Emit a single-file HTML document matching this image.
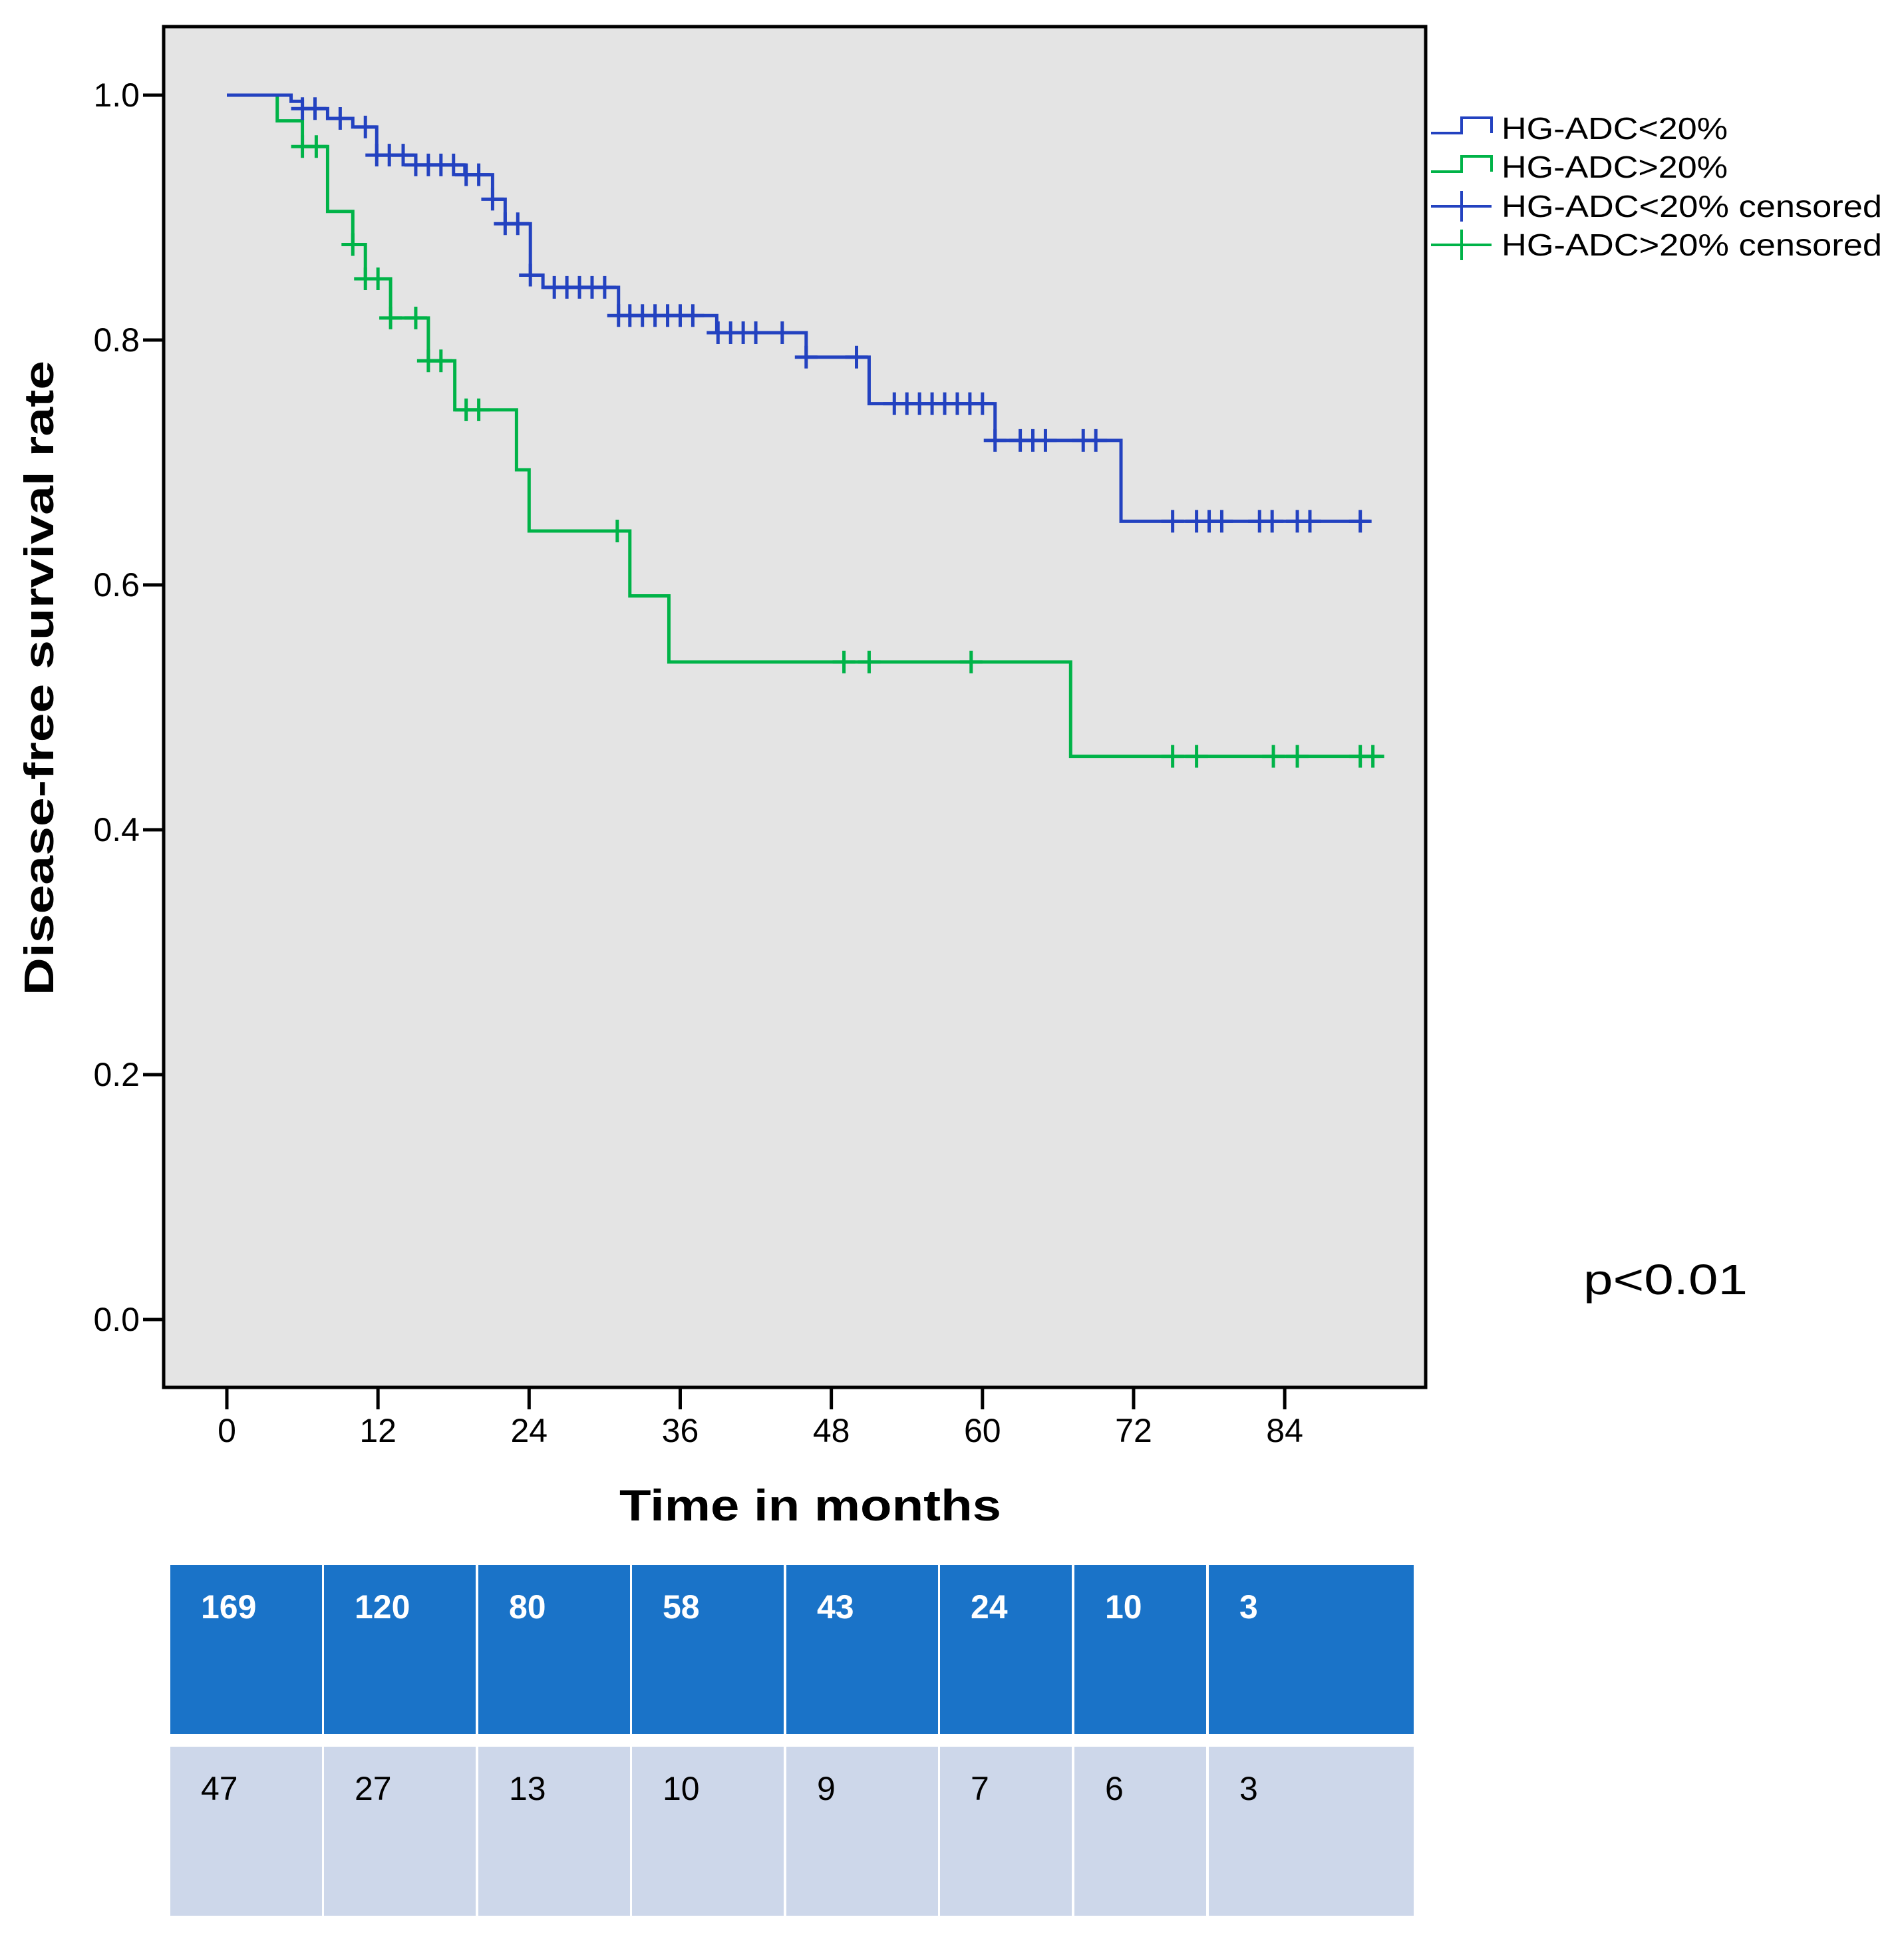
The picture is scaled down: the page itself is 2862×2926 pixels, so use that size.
<!DOCTYPE html>
<html><head><meta charset="utf-8"><style>
html,body{margin:0;padding:0;background:#fff;}
svg{display:block;font-family:"Liberation Sans",sans-serif;}
</style></head><body>
<svg id="chart" width="2862" height="2926" viewBox="0 0 2862 2926" xmlns="http://www.w3.org/2000/svg">
<rect x="246" y="40" width="1897" height="2045" fill="#e4e4e4"/>
<g id="marks"></g>
<rect x="246" y="40" width="1897" height="2045" fill="none" stroke="#000" stroke-width="5"/>
<g id="axes"></g>
<text transform="translate(80,1019) rotate(-90)" text-anchor="middle" font-size="62" font-weight="bold" textLength="954" lengthAdjust="spacingAndGlyphs">Disease-free survival rate</text>
<text x="1218" y="2285" text-anchor="middle" font-size="66" font-weight="bold" textLength="574" lengthAdjust="spacingAndGlyphs">Time in months</text>
<text x="2380" y="1945" font-size="64" textLength="247" lengthAdjust="spacingAndGlyphs">p&lt;0.01</text>
<g id="legend"></g>
<g id="table"></g>
</svg>
<script>
const xTicks=[0,12,24,36,48,60,72,84];
const yTicks=[0,0.2,0.4,0.6,0.8,1.0];
const blueTimes=[0,5.1,6.0,8.0,10.0,11.9,15.0,18.9,21.1,22.1,24.1,25.1,31.1,38.9,46.0,51.0,61.0,71.0];
const blueSurv=[1.0,0.995,0.989,0.981,0.974,0.951,0.943,0.935,0.915,0.895,0.853,0.843,0.820,0.806,0.786,0.748,0.718,0.652];
const blueEnd=90.8;
const blueCensor=[6.0,7.0,9.0,11.0,11.9,12.9,14.0,15.0,16.0,17.0,18.0,19.0,20.0,21.1,22.1,23.1,24.1,26.0,27.0,28.0,29.0,30.0,31.1,32.0,33.0,34.0,35.0,36.0,37.0,39.0,40.0,41.0,42.0,44.1,46.0,50.0,53.0,54.0,55.0,56.0,57.0,58.0,59.0,60.0,61.0,63.0,64.0,65.0,68.0,69.0,75.1,77.0,78.0,79.0,82.0,83.0,85.0,86.0,90.0];
const greenTimes=[0,4.0,6.0,8.0,10.0,11.0,13.0,16.0,18.1,23.0,24.0,32.0,35.1,67.0];
const greenSurv=[1.0,0.979,0.958,0.905,0.878,0.850,0.818,0.783,0.743,0.694,0.644,0.591,0.537,0.460];
const greenEnd=91.6;
const greenCensor=[6.0,7.1,10.0,11.0,12.0,13.0,15.0,16.0,17.0,19.0,20.0,31.0,49.0,51.0,59.1,75.1,77.0,83.1,85.0,90.0,91.0];
const riskHigh=["169","120","80","58","43","24","10","3"];
const riskLow=["47","27","13","10","9","7","6","3"];
const legendLabels=["HG-ADC<20%","HG-ADC>20%","HG-ADC<20% censored","HG-ADC>20% censored"];

const NS="http://www.w3.org/2000/svg";
const X=t=>341+t*18.93;
const Y=s=>1983-s*1840;
const BLUE="#2342c0",GREEN="#00b348";
function mk(tag,attrs,parent){const e=document.createElementNS(NS,tag);for(const k in attrs)e.setAttribute(k,attrs[k]);parent.appendChild(e);return e;}
const marks=document.getElementById('marks');
function survAt(times,surv,t){let s=surv[0];for(let i=0;i<times.length;i++){if(times[i]<=t+1e-9)s=surv[i];}return s;}
function drawCurve(times,surv,end,cens,color,name){
  let d="M"+X(times[0])+","+Y(surv[0]);
  for(let i=1;i<times.length;i++){d+=" H"+X(times[i])+" V"+Y(surv[i]);}
  d+=" H"+X(end);
  const p=mk('path',{d:d,fill:"none",stroke:color,"stroke-width":5},marks);
  
  
  cens.forEach(t=>{
    const s=survAt(times,surv,t);
    const c=mk('path',{d:"M"+(X(t)-17)+","+Y(s)+" H"+(X(t)+17)+" M"+X(t)+","+(Y(s)-17)+" V"+(Y(s)+17),stroke:color,"stroke-width":5,fill:"none"},marks);
    
    
  });
}
drawCurve(greenTimes,greenSurv,greenEnd,greenCensor,GREEN,'hg-adc-gt20');
drawCurve(blueTimes,blueSurv,blueEnd,blueCensor,BLUE,'hg-adc-lt20');

const axes=document.getElementById('axes');
yTicks.forEach(v=>{
  const l=mk('line',{x1:215,x2:246,y1:Y(v),y2:Y(v),stroke:"#000","stroke-width":5},axes);
  
  
  const t=mk('text',{x:210,y:Y(v)+17,"text-anchor":"end","font-size":50},axes);
  t.textContent=v.toFixed(1);
  
  
});
xTicks.forEach(v=>{
  const l=mk('line',{x1:X(v),x2:X(v),y1:2085,y2:2118,stroke:"#000","stroke-width":5},axes);
  
  
  const t=mk('text',{x:X(v),y:2167,"text-anchor":"middle","font-size":50},axes);
  t.textContent=String(v);
  
  
});

const lg=document.getElementById('legend');
const rowsY=[193,251,310,368];
const lgColors=[BLUE,GREEN,BLUE,GREEN];
legendLabels.forEach((lab,i)=>{
  const cy=rowsY[i];
  let sym;
  if(i<2){sym=mk('path',{d:"M2151,"+(cy+7)+" H2197 V"+(cy-16)+" H2242 V"+(cy+7),fill:"none",stroke:lgColors[i],"stroke-width":4},lg);}
  else{sym=mk('path',{d:"M2151,"+cy+" H2242 M2197,"+(cy-23)+" V"+(cy+23),fill:"none",stroke:lgColors[i],"stroke-width":4},lg);}
  
  
  const t=mk('text',{x:2257,y:cy+16,"font-size":46,textLength:(i<2?340:572),lengthAdjust:"spacingAndGlyphs"},lg);
  t.textContent=lab;
  
  
});

const tb=document.getElementById('table');
const colL=[256,487,719,950,1182,1413,1615,1817];
const colR=[484,715,947,1178,1410,1611,1813,2125];
function row(vals,y0,y1,fill,txt,weight,name){
  vals.forEach((v,i)=>{
    const r=mk('rect',{x:colL[i],y:y0,width:colR[i]-colL[i],height:y1-y0,fill:fill},tb);
    
    
    const t=mk('text',{x:colL[i]+46,y:y0+80,"font-size":50,fill:txt,"font-weight":weight},tb);
    t.textContent=v;
    
    
  });
}
row(riskHigh,2352,2606,"#1a73c8","#fff","bold","risk-lt20");
row(riskLow,2625,2879,"#cdd7ea","#000","normal","risk-gt20");
</script>
</body></html>
